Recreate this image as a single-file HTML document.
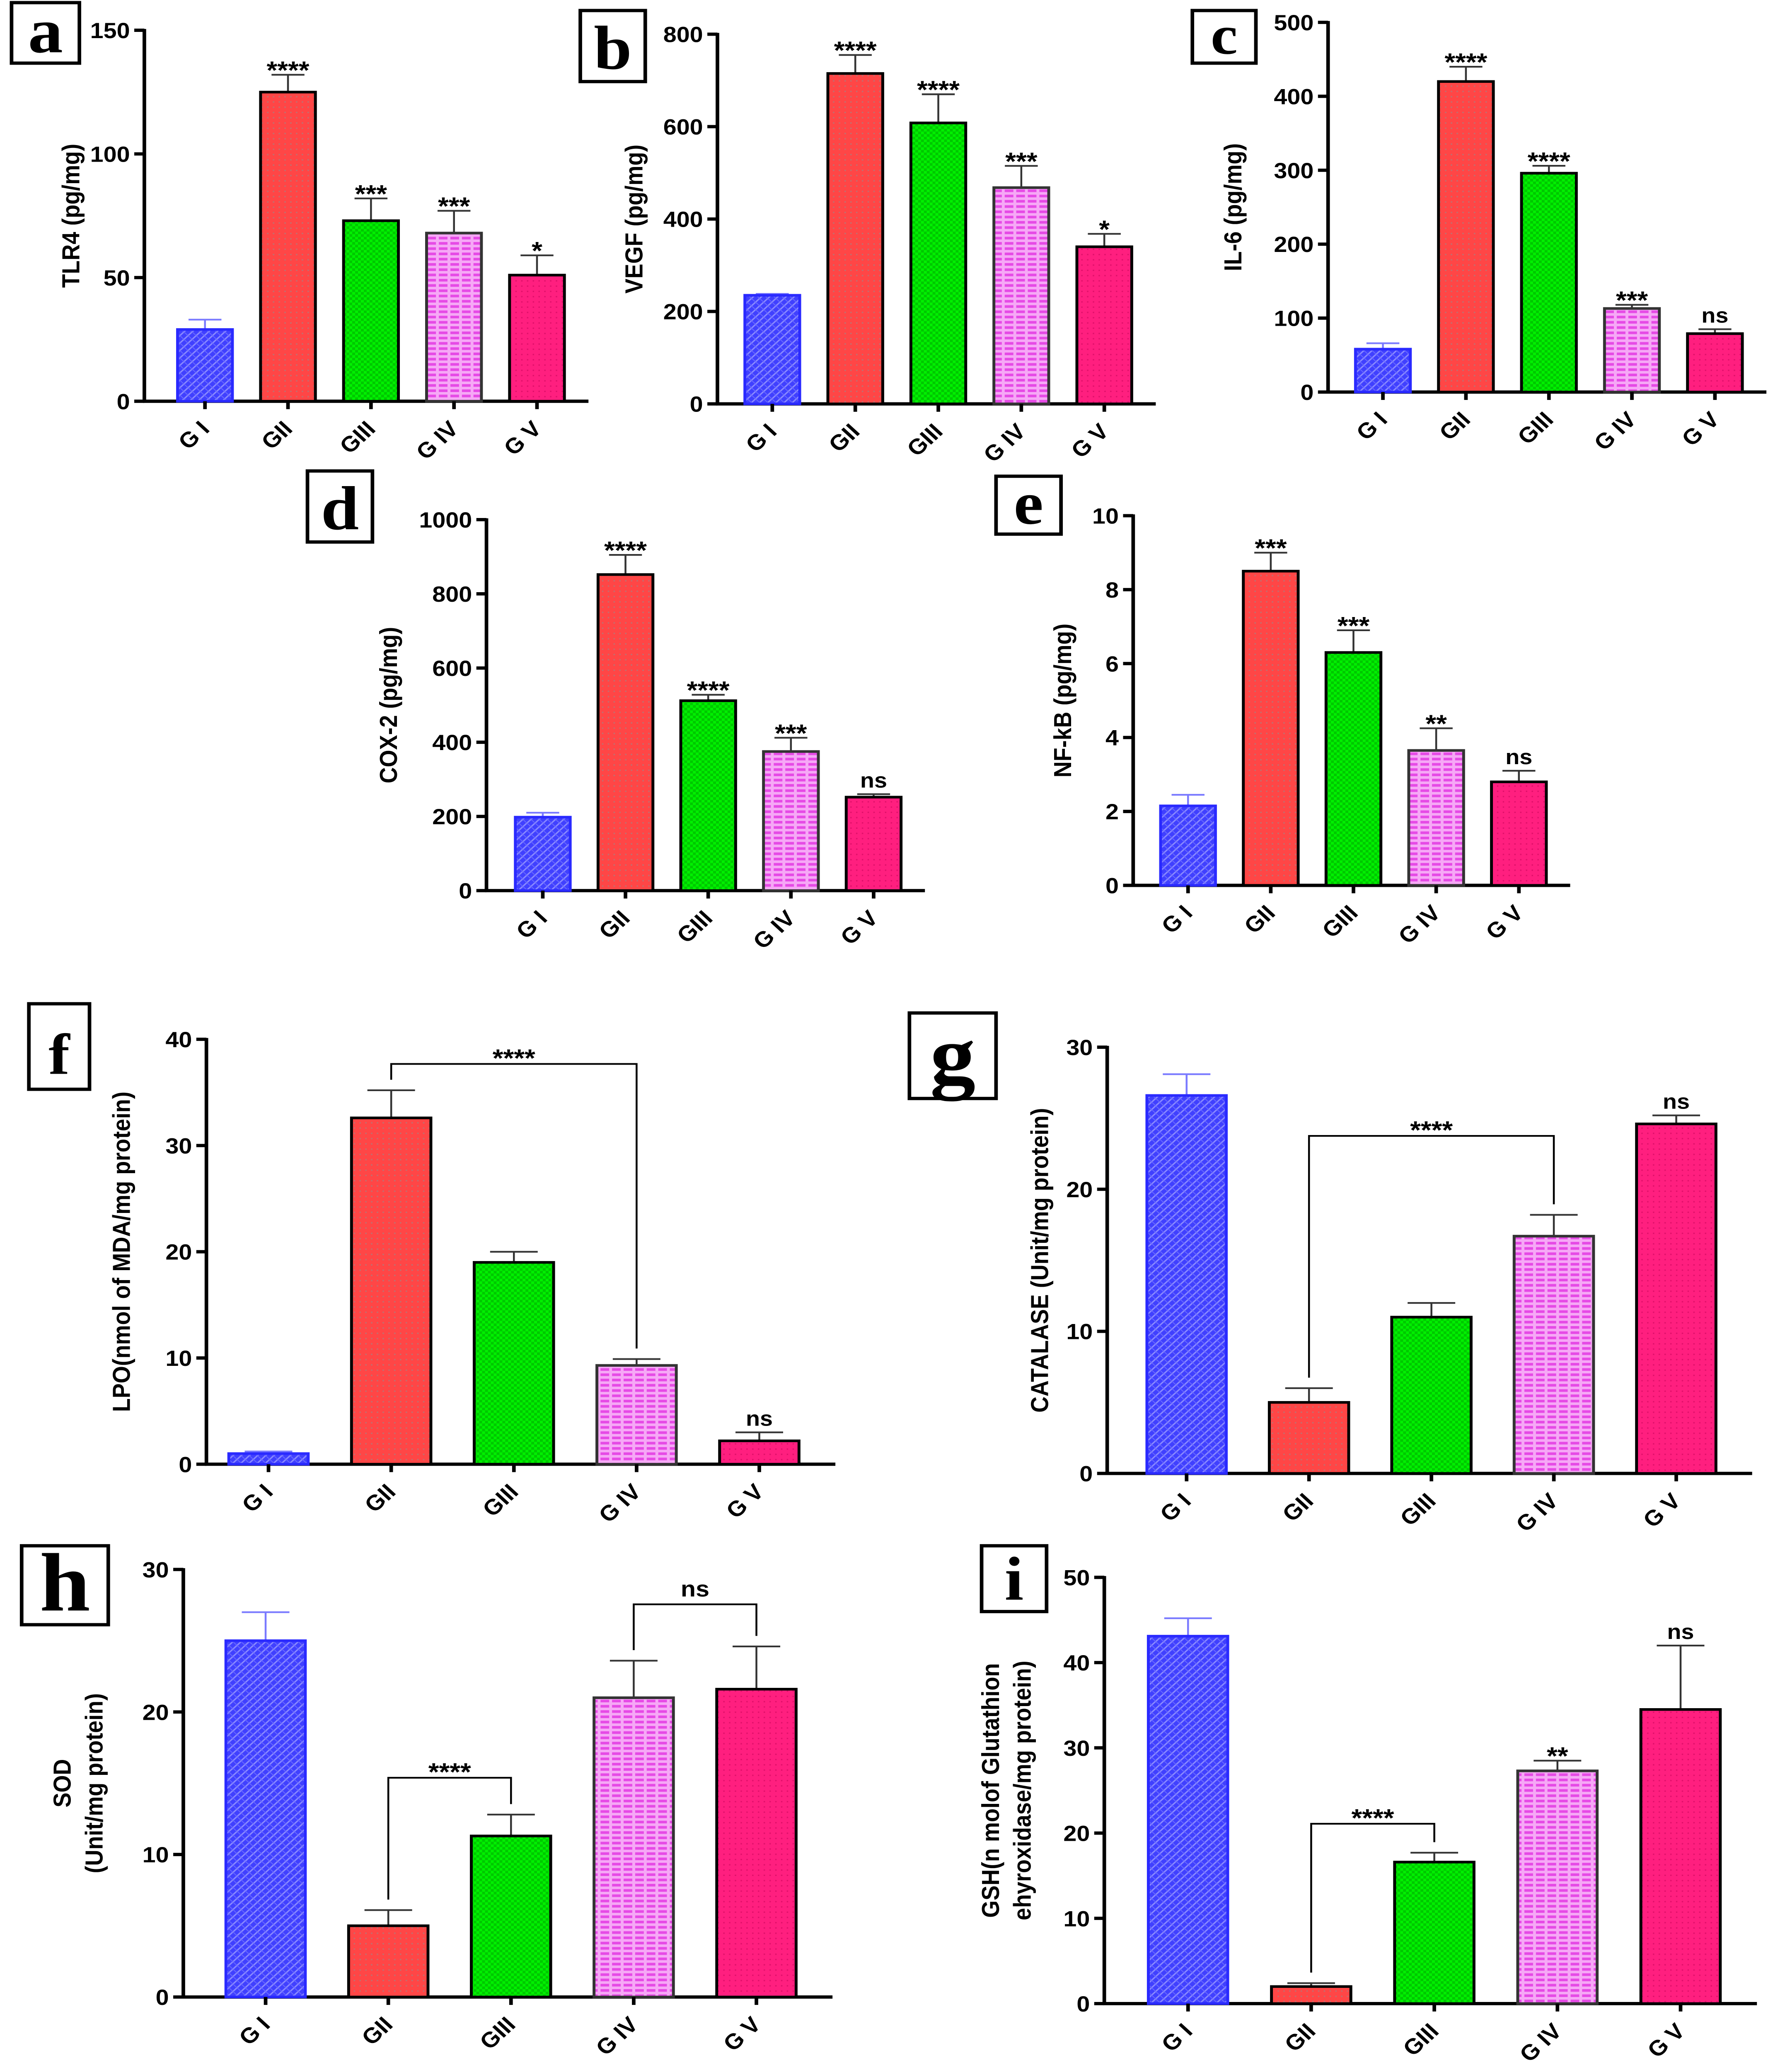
<!DOCTYPE html>
<html><head><meta charset="utf-8"><style>
html,body{margin:0;padding:0;background:#fff;width:100%;height:100%;overflow:hidden}
svg{display:block;position:fixed;left:0;top:0;width:100vw;height:100vh}
text{font-family:"Liberation Sans",Arial,sans-serif;font-weight:bold;fill:#000}
</style></head><body>
<svg id="chart" xmlns="http://www.w3.org/2000/svg" viewBox="0 0 1240 1575" preserveAspectRatio="none">
<defs>
<pattern id="pBlue" width="4" height="4" patternUnits="userSpaceOnUse" patternTransform="rotate(45)"><rect width="4" height="4" fill="#4040ff"/><rect width="1" height="4" fill="#8a8aff"/><rect width="4" height="0.6" fill="#6a6aff"/></pattern>
<pattern id="pRed" width="4" height="4" patternUnits="userSpaceOnUse"><rect width="4" height="4" fill="#ff4646"/><rect x="1" y="1" width="1" height="1" fill="#c07070"/></pattern>
<pattern id="pGreen" width="4" height="4" patternUnits="userSpaceOnUse"><rect width="4" height="4" fill="#00f000"/><rect width="2" height="2" fill="#00c800"/><rect x="2" y="2" width="2" height="2" fill="#00c800"/></pattern>
<pattern id="pPink" width="8" height="4" patternUnits="userSpaceOnUse"><rect width="8" height="4" fill="#f6a8f6"/><rect x="0" y="0" width="6" height="2" fill="#e64ae6"/></pattern>
<pattern id="pMag" width="4" height="4" patternUnits="userSpaceOnUse"><rect width="4" height="4" fill="#ff1f7f"/><rect x="1" y="1" width="1" height="1" fill="#e0106a"/></pattern>
</defs>
<g id="root"></g>
</svg>
<script>
const groups = ["G I","GII","GIII","G IV","G V"];
const aVals=[29,125,73,68,51], aErr=[33,132,82,77,59], aStars=["","****","***","***","*"], aTicks=[0,50,100,150];
const bVals=[235,715,608,468,340], bErr=[238,755,670,515,368], bStars=["","****","****","***","*"], bTicks=[0,200,400,600,800];
const cVals=[58,420,296,113,79], cErr=[66,440,306,118,85], cStars=["","****","****","***","ns"], cTicks=[0,100,200,300,400,500];
const dVals=[198,852,512,375,252], dErr=[210,905,528,412,260], dStars=["","****","****","***","ns"], dTicks=[0,200,400,600,800,1000];
const eVals=[2.15,8.5,6.3,3.65,2.8], eErr=[2.45,9.0,6.9,4.25,3.1], eStars=["","***","***","**","ns"], eTicks=[0,2,4,6,8,10];
const fVals=[1,32.6,19,9.3,2.2], fErr=[1.2,35.2,20,9.9,3.0], fStars=["","","","","ns"], fTicks=[0,10,20,30,40];
const gVals=[26.6,5,11,16.7,24.6], gErr=[28.1,6,12,18.2,25.2], gStars=["","","","","ns"], gTicks=[0,10,20,30];
const hVals=[25,5,11.3,21,21.6], hErr=[27,6.1,12.8,23.6,24.6], hStars=["","","","",""], hTicks=[0,10,20,30];
const iVals=[43.1,2,16.6,27.3,34.5], iErr=[45.2,2.4,17.7,28.5,42], iStars=["","","","**","ns"], iTicks=[0,10,20,30,40,50];

const fills=["url(#pBlue)","url(#pRed)","url(#pGreen)","url(#pPink)","url(#pMag)"];
const strokes=["#2a2aff","#000","#000","#333","#000"];
const NS="http://www.w3.org/2000/svg";
const root=document.getElementById('root');
function mk(tag,attrs,parent,txt){const e=document.createElementNS(NS,tag);for(const k in attrs)e.setAttribute(k,attrs[k]);if(txt!==undefined)e.textContent=txt;(parent||root).appendChild(e);return e;}

const panels=[
 {id:'a',vals:aVals,err:aErr,stars:aStars,ticks:aTicks,ax:100,y0:305,yT:23,x0:142,dx:57.5,bw:38,title:["TLR4 (pg/mg)"],tx:55,lb:[8,2,47,46]},
 {id:'b',vals:bVals,err:bErr,stars:bStars,ticks:bTicks,ax:497,y0:307,yT:26,x0:535,dx:57.5,bw:38,title:["VEGF (pg/mg)"],tx:445,lb:[402,8,45,54]},
 {id:'c',vals:cVals,err:cErr,stars:cStars,ticks:cTicks,ax:920,y0:298,yT:17,x0:958,dx:57.5,bw:38,title:["IL-6  (pg/mg)"],tx:860,lb:[826,8,44,40]},
 {id:'d',vals:dVals,err:dErr,stars:dStars,ticks:dTicks,ax:337,y0:677,yT:395,x0:376,dx:57.3,bw:38,title:["COX-2 (pg/mg)"],tx:275,lb:[213,358,45,54]},
 {id:'e',vals:eVals,err:eErr,stars:eStars,ticks:eTicks,ax:785,y0:673,yT:392,x0:823,dx:57.3,bw:38,title:["NF-kB (pg/mg)"],tx:742,lb:[690,362,45,44]},
 {id:'f',vals:fVals,err:fErr,stars:fStars,ticks:fTicks,ax:143,y0:1113,yT:790,x0:186,dx:85,bw:55,title:["LPO(nmol of MDA/mg protein)"],tx:90,lb:[20,763,42,65],br:[[1,3,"****",20]]},
 {id:'g',vals:gVals,err:gErr,stars:gStars,ticks:gTicks,ax:767,y0:1120,yT:796,x0:822,dx:84.8,bw:55,title:["CATALASE (Unit/mg protein)"],tx:726,lb:[630,770,60,65],br:[[1,3,"****",60]]},
 {id:'h',vals:hVals,err:hErr,stars:hStars,ticks:hTicks,ax:127,y0:1518,yT:1193,x0:184,dx:85,bw:55,title:["SOD","(Unit/mg protein)"],tx:60,lb:[15,1175,60,60],br:[[1,2,"****",28],[3,4,"ns",32]]},
 {id:'i',vals:iVals,err:iErr,stars:iStars,ticks:iTicks,ax:765,y0:1523,yT:1199,x0:823,dx:85.3,bw:55,title:["GSH(n molof Glutathion","ehyroxidase/mg protein)"],tx:703,lb:[680,1175,45,50],br:[[1,2,"****",22]]}
];

panels.forEach(p=>{
  const g=mk('g',{});
  
  
  const maxV=p.ticks[p.ticks.length-1];
  const Y=v=>p.y0-(v/maxV)*(p.y0-p.yT);
  const X=i=>p.x0+i*p.dx;
  const xEnd=X(groups.length-1)+p.dx*0.62;
  const lb=mk('rect',{x:p.lb[0],y:p.lb[1],width:p.lb[2],height:p.lb[3],fill:'#fff',stroke:'#000','stroke-width':2.5},g);
  
  
  const lt=mk('text',{x:p.lb[0]+p.lb[2]/2,y:p.lb[1]+p.lb[3]*0.82,'text-anchor':'middle','font-size':Math.min(p.lb[2],p.lb[3])*1.05,style:'font-family:"Liberation Serif",serif;font-weight:bold'},g,p.id);
  
  
  const ya=mk('line',{x1:p.ax,y1:p.yT-1,x2:p.ax,y2:p.y0+1,stroke:'#000','stroke-width':2.5},g);
  
  
  p.ticks.forEach(t=>{
    mk('line',{x1:p.ax-7,y1:Y(t),x2:p.ax,y2:Y(t),stroke:'#000','stroke-width':2.5},g);
    const tl=mk('text',{x:p.ax-10,y:Y(t)+6,'text-anchor':'end','font-size':16.5},g,t);
    
    
  });
  const xa=mk('line',{x1:p.ax-1,y1:p.y0,x2:xEnd,y2:p.y0,stroke:'#000','stroke-width':2.5},g);
  
  
  const n=p.title.length;
  p.title.forEach((t,k)=>{
    const cx=p.tx+(k-(n-1)/2)*22, cy=(p.y0+p.yT)/2;
    const tt=mk('text',{x:cx,y:cy,'text-anchor':'middle','font-size':17,transform:`rotate(-90 ${cx} ${cy})`},g,t);
    
    
  });
  groups.forEach((name,i)=>{
    const cx=X(i), top=Y(p.vals[i]);
    const eb=mk('path',{d:`M${cx},${top} V${Y(p.err[i])} M${cx-p.bw*0.3},${Y(p.err[i])} H${cx+p.bw*0.3}`,stroke:i==0?'#7a7aff':'#333','stroke-width':1.3,fill:'none'},g);
    
    
    const r=mk('rect',{x:cx-p.bw/2,y:top,width:p.bw,height:p.y0-top,fill:fills[i],stroke:strokes[i],'stroke-width':2},g);
    
    
    mk('line',{x1:cx,y1:p.y0,x2:cx,y2:p.y0+6,stroke:'#000','stroke-width':2.5},g);
    const lx=cx+4, ly=p.y0+22;
    const xl=mk('text',{x:lx,y:ly,'text-anchor':'end','font-size':16.5,transform:`rotate(-45 ${lx} ${ly})`},g,name);
    
    
    if(p.stars[i]){
      const st=mk('text',{x:cx,y:Y(p.err[i])-(p.stars[i]=='ns'?5:-3),'text-anchor':'middle','font-size':p.stars[i]=='ns'?16:19},g,p.stars[i]);
      
      
    }
  });
  (p.br||[]).forEach(b=>{
    const a=b[0], c=b[1];
    const yb=Math.min(Y(p.err[a]),Y(p.err[c]))-b[3];
    const pb=mk('path',{d:`M${X(a)},${Y(p.err[a])-8} V${yb} H${X(c)} V${Y(p.err[c])-8}`,stroke:'#000','stroke-width':1.3,fill:'none'},g);
    
    
    const bt=mk('text',{x:(X(a)+X(c))/2,y:yb-(b[2]=='ns'?6:-2),'text-anchor':'middle','font-size':b[2]=='ns'?17:19},g,b[2]);
    
    
  });
});
</script>
</body></html>
